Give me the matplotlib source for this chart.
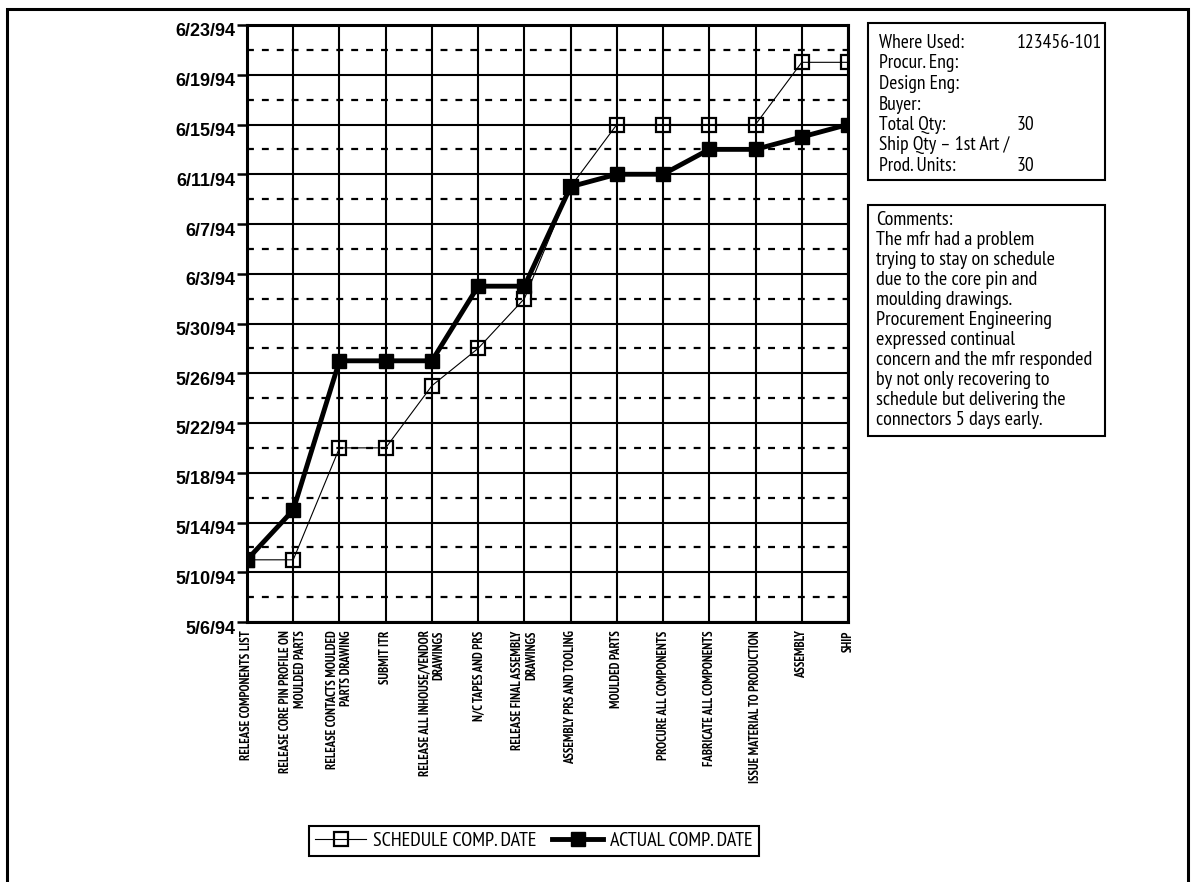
import matplotlib
matplotlib.use('Agg')
import matplotlib.pyplot as plt
import matplotlib.dates as mdates
import matplotlib.transforms as mtrans
from matplotlib.patches import Rectangle
import numpy as np
import pandas as pd

plt.rcParams['font.family'] = ['Liberation Sans', 'DejaVu Sans']
NARROW = ['PT Sans Narrow', 'Liberation Sans', 'DejaVu Sans']

# milestones along the x axis
tasks = ['RELEASE COMPONENTS LIST',
         'RELEASE CORE PIN PROFILE ON\nMOULDED PARTS',
         'RELEASE CONTACTS MOULDED\nPARTS DRAWING',
         'SUBMIT ITR',
         'RELEASE ALL INHOUSE/VENDOR\nDRAWINGS',
         'N/C TAPES AND PRS',
         'RELEASE FINAL ASSEMBLY\nDRAWINGS',
         'ASSEMBLY PRS AND TOOLING',
         'MOULDED PARTS',
         'PROCURE ALL COMPONENTS',
         'FABRICATE ALL COMPONENTS',
         'ISSUE MATERIAL TO PRODUCTION',
         'ASSEMBLY',
         'SHIP']

schedule = ['5/11/94', '5/11/94', '5/20/94', '5/20/94', '5/25/94', '5/28/94', '6/1/94',
            '6/10/94', '6/15/94', '6/15/94', '6/15/94', '6/15/94', '6/20/94', '6/20/94']
actual = ['5/11/94', '5/15/94', '5/27/94', '5/27/94', '5/27/94', '6/2/94', '6/2/94',
          '6/10/94', '6/11/94', '6/11/94', '6/13/94', '6/13/94', '6/14/94', '6/15/94']

date_ticks = ['5/6/94', '5/10/94', '5/14/94', '5/18/94', '5/22/94', '5/26/94', '5/30/94',
              '6/3/94', '6/7/94', '6/11/94', '6/15/94', '6/19/94', '6/23/94']

info_left = ['Where Used:', 'Procur. Eng:', 'Design Eng:', 'Buyer:', 'Total Qty:',
             'Ship Qty \u2013 1st Art /', 'Prod. Units:']
info_right = ['123456-101', '', '', '', '30', '', '30']

comments = ['Comments:',
            'The mfr had a problem',
            'trying to stay on schedule',
            'due to the core pin and',
            'moulding drawings.',
            'Procurement Engineering',
            'expressed continual',
            'concern and the mfr responded',
            'by not only recovering to',
            'schedule but delivering the',
            'connectors 5 days early.']


def to_num(lst):
    return mdates.date2num(pd.to_datetime(lst, format='%m/%d/%y'))


sched_num = to_num(schedule)
act_num = to_num(actual)
tick_num = to_num(date_ticks)

W, H = 1196, 882
fig = plt.figure(figsize=(W / 100, H / 100), dpi=100)
ax = fig.add_axes([247 / W, 1 - 622 / H, (848 - 247) / W, (622 - 25) / H])

x = np.arange(len(tasks))
ax.plot(x, sched_num, color='black', lw=0.8, marker='s', ms=9.5, mfc='none',
        mec='black', mew=1.6, zorder=3, label='SCHEDULE COMP. DATE')
ax.plot(x, act_num, color='black', lw=3.5, marker='s', ms=10.5, mfc='black',
        mec='black', zorder=4, label='ACTUAL COMP. DATE')

ax.set_xlim(0, len(tasks) - 1)
ax.set_ylim(tick_num[0], tick_num[-1])

ax.set_xticks(x)
ax.set_xticklabels(tasks, rotation=90, fontsize=9.1, fontweight='bold', family=NARROW,
                   va='top', ha='center', multialignment='right', linespacing=1.15)
ax.tick_params(axis='x', length=0, pad=6)

ax.set_yticks(tick_num)
ax.set_yticklabels(date_ticks, fontsize=13, fontweight='bold')
ax.tick_params(axis='y', which='major', length=7, width=1.8, pad=1.5)
ax.set_yticks((tick_num[:-1] + tick_num[1:]) / 2, minor=True)
ax.tick_params(axis='y', which='minor', length=0)
# labels sit a bit below their tick in the original
off = mtrans.ScaledTranslation(0, -5 / 100, fig.dpi_scale_trans)
for lab in ax.get_yticklabels():
    lab.set_transform(lab.get_transform() + off)

ax.grid(True, which='major', color='black', lw=1.5)
ax.grid(True, which='minor', axis='y', color='black', lw=1.6, ls=(0, (3.1, 3.6)))
ax.set_axisbelow(True)
for s in ax.spines.values():
    s.set_linewidth(2.2)

leg = ax.legend(loc='center', bbox_to_anchor=(534 / W, 1 - 841 / H),
                bbox_transform=fig.transFigure, ncol=2,
                prop={'family': NARROW, 'size': 14.5},
                frameon=True, fancybox=False, edgecolor='black', framealpha=1,
                handlelength=2.5, handletextpad=0.35, columnspacing=0.8,
                borderpad=0.3, borderaxespad=0)
leg.get_frame().set_linewidth(1.5)

# outer frame
fig.patches.append(Rectangle((7 / W, -0.05), (1188 - 7) / W, 1 - 9 / H + 0.05,
                             transform=fig.transFigure, fill=False, lw=2.2, ec='black'))

# info box
fig.patches.append(Rectangle((868 / W, 1 - 180 / H), (1105 - 868) / W, (180 - 23) / H,
                             transform=fig.transFigure, fill=False, lw=1.5, ec='black'))
for i, (a, b) in enumerate(zip(info_left, info_right)):
    yy = 1 - (43 + 20.5 * i) / H
    fig.text(879 / W, yy, a, fontsize=14, va='center', family=NARROW)
    fig.text(1017 / W, yy, b, fontsize=14, va='center', family=NARROW)

# comments box
fig.patches.append(Rectangle((868 / W, 1 - 436 / H), (1105 - 868) / W, (436 - 205) / H,
                             transform=fig.transFigure, fill=False, lw=1.5, ec='black'))
for i, line in enumerate(comments):
    fig.text(876 / W, 1 - (220 + 20 * i) / H, line, fontsize=14.5, va='center',
             family=NARROW)

fig.savefig('out.png', dpi=100)
